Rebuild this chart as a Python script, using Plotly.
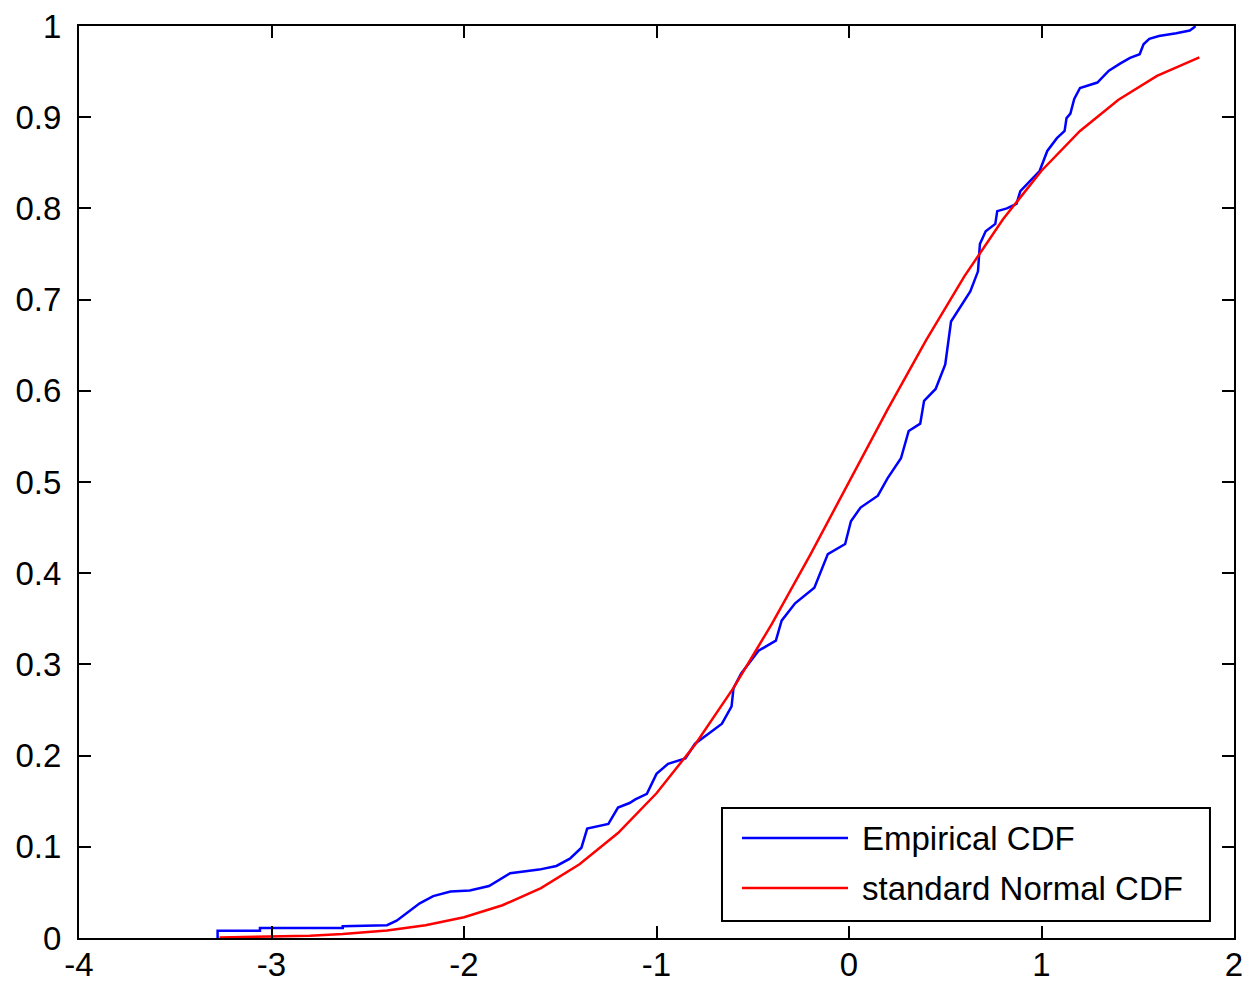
import plotly.graph_objects as go

# Empirical CDF of the sample (step knots, read as x / F(x) pairs)
ecdf_x = [-3.28, -3.28, -3.06, -3.06, -2.63, -2.63, -2.40, -2.35, -2.23, -2.16,
          -2.07, -1.97, -1.87, -1.76, -1.61, -1.52, -1.45, -1.39, -1.36, -1.25,
          -1.20, -1.14, -1.11, -1.05, -1.00, -0.94, -0.85, -0.80, -0.73, -0.66,
          -0.61, -0.60, -0.56, -0.47, -0.38, -0.35, -0.28, -0.18, -0.11, -0.02,
          0.01, 0.06, 0.15, 0.20, 0.27, 0.31, 0.37, 0.39, 0.45, 0.50,
          0.53, 0.59, 0.63, 0.67, 0.68, 0.71, 0.76, 0.77, 0.82, 0.87,
          0.89, 0.94, 0.99, 1.01, 1.03, 1.08, 1.12, 1.13, 1.15, 1.17,
          1.20, 1.29, 1.32, 1.35, 1.41, 1.46, 1.51, 1.53, 1.56, 1.61,
          1.70, 1.77, 1.79, 1.80]
ecdf_y = [0.000, 0.008, 0.008, 0.011, 0.011, 0.013, 0.014, 0.019, 0.038, 0.046,
          0.051, 0.052, 0.057, 0.071, 0.075, 0.079, 0.087, 0.099, 0.120, 0.125,
          0.143, 0.148, 0.152, 0.158, 0.180, 0.191, 0.197, 0.213, 0.224, 0.235,
          0.254, 0.274, 0.290, 0.315, 0.326, 0.348, 0.367, 0.384, 0.421, 0.432,
          0.457, 0.472, 0.485, 0.504, 0.526, 0.556, 0.564, 0.589, 0.602, 0.629,
          0.676, 0.695, 0.709, 0.731, 0.761, 0.775, 0.783, 0.797, 0.800, 0.805,
          0.819, 0.830, 0.841, 0.852, 0.863, 0.877, 0.885, 0.899, 0.904, 0.920,
          0.932, 0.938, 0.945, 0.951, 0.959, 0.965, 0.969, 0.980, 0.986, 0.989,
          0.992, 0.995, 0.998, 1.000]

# Standard normal CDF evaluated over the sample range
norm_x = [-3.27, -3.06, -2.80, -2.63, -2.40, -2.20, -2.00, -1.80, -1.60, -1.40,
          -1.20, -1.00, -0.80, -0.60, -0.40, -0.20, 0.00, 0.20, 0.40, 0.60,
          0.80, 1.00, 1.20, 1.40, 1.60, 1.82]
norm_y = [0.0005, 0.0011, 0.0026, 0.0043, 0.0082, 0.0139, 0.0228, 0.0359, 0.0548, 0.0808,
          0.1151, 0.1587, 0.2119, 0.2743, 0.3446, 0.4207, 0.5000, 0.5793, 0.6554, 0.7257,
          0.7881, 0.8413, 0.8849, 0.9192, 0.9452, 0.9656]

x_ticks = [-4, -3, -2, -1, 0, 1, 2]
x_labels = ["-4", "-3", "-2", "-1", "0", "1", "2"]
y_ticks = [0, 0.1, 0.2, 0.3, 0.4, 0.5, 0.6, 0.7, 0.8, 0.9, 1]
y_labels = ["0", "0.1", "0.2", "0.3", "0.4", "0.5", "0.6", "0.7", "0.8", "0.9", "1"]

legend_names = ["Empirical CDF", "standard Normal CDF"]
BLUE = "#0000FF"
RED = "#FF0000"
FONT = "Liberation Sans, Arial, sans-serif"

fig = go.Figure()
fig.add_trace(go.Scatter(x=ecdf_x, y=ecdf_y, mode="lines",
                         line=dict(color=BLUE, width=2.5), name=legend_names[0]))
fig.add_trace(go.Scatter(x=norm_x, y=norm_y, mode="lines",
                         line=dict(color=RED, width=2.5), name=legend_names[1]))

axis_common = dict(showline=True, linecolor="black", linewidth=2, mirror="ticks",
                   ticks="inside", ticklen=12, tickwidth=2, tickcolor="black",
                   showgrid=False, zeroline=False, automargin=False,
                   tickfont=dict(family=FONT, size=33, color="black"))

fig.update_xaxes(range=[-4, 2], tickvals=x_ticks, ticktext=x_labels,
                 ticklabelstandoff=-4, **axis_common)
fig.update_yaxes(range=[0, 1], tickvals=y_ticks, ticktext=y_labels,
                 ticklabelstandoff=9, **axis_common)

# Boxed legend in the lower right corner of the axes
box = dict(x0=0.5567, x1=0.9792, y0=0.0186, y1=0.1425)
fig.add_shape(type="rect", xref="paper", yref="paper", **box,
              line=dict(color="black", width=2), fillcolor="white", layer="above")
rows = [0.1096, 0.0548]
for name, color, yy in zip(legend_names, [BLUE, RED], rows):
    fig.add_shape(type="line", xref="paper", yref="paper",
                  x0=0.574, x1=0.6658, y0=yy, y1=yy,
                  line=dict(color=color, width=2.5), layer="above")
    fig.add_annotation(xref="paper", yref="paper", x=0.6762, y=yy, text=name,
                       showarrow=False, xanchor="left", yanchor="middle",
                       font=dict(family=FONT, size=33, color="black"))

fig.update_layout(width=1249, height=983, showlegend=False,
                  margin=dict(l=79, r=15, t=26, b=45),
                  paper_bgcolor="white", plot_bgcolor="white")

fig.write_html("out.html")
